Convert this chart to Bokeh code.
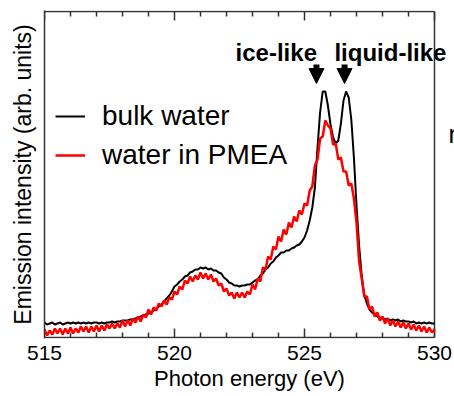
from bokeh.plotting import figure
from bokeh.models import (Range1d, FixedTicker, Legend, LegendItem,
                          Label, Arrow, NormalHead)
from bokeh.embed import file_html
from bokeh.resources import INLINE

# Photon energy grid (eV), 0.1 eV step
energy = [round(515 + 0.1 * i, 1) for i in range(151)]

bulk_water = [
    15, 13, 14, 15, 13, 14, 15, 13, 14, 15,      # 515
    14, 15, 14, 15, 14, 15, 14, 15, 14, 15,      # 516
    15, 14, 15, 14, 15, 15, 16, 15, 16, 16,      # 517
    17, 17, 17, 18, 18, 19, 20, 21, 22, 23,      # 518
    24, 25, 27, 29, 31, 33, 36, 39, 42, 46,      # 519
    51, 53, 56, 58, 61, 62, 65, 66, 68, 68,      # 520
    70, 69, 70, 68, 69, 67, 67, 65, 64, 60,      # 521
    58, 55, 54, 52, 52, 51, 52, 52, 53, 53,      # 522
    55, 57, 58, 62, 64, 68, 70, 74, 76, 80,      # 523
    82, 85, 85, 87, 87, 89, 90, 92, 93, 96,      # 524
    100, 107, 117, 130, 150, 190, 225, 246, 246, 232,  # 525
    213, 200, 194, 197, 214, 237, 246, 240, 218, 180,  # 526
    132, 92, 62, 42, 34, 28, 25, 23, 21, 20,     # 527
    19, 18, 19, 17, 18, 17, 18, 16, 17, 16,      # 528
    16, 15, 16, 14, 15, 14, 15, 14, 15, 14,      # 529
    14,                                          # 530
]

water_in_pmea = [
    8, 2, 7, 3, 9, 4, 9, 3, 9, 4,                # 515
    10, 4, 9, 5, 11, 6, 11, 5, 11, 6,            # 516
    12, 6, 12, 7, 13, 9, 14, 9, 14, 10,          # 517
    17, 11, 17, 12, 19, 15, 21, 16, 23, 20,      # 518
    28, 23, 30, 27, 34, 31, 37, 33, 40, 38,      # 519
    46, 43, 51, 48, 57, 54, 61, 56, 62, 58,      # 520
    65, 59, 64, 58, 63, 56, 59, 52, 54, 46,      # 521
    49, 42, 45, 39, 45, 40, 45, 40, 46, 43,      # 522
    53, 48, 59, 56, 70, 68, 81, 78, 91, 88,      # 523
    101, 96, 108, 103, 115, 110, 121, 116, 127, 123,   # 524
    134, 132, 147, 151, 172, 178, 199, 201, 217, 212,  # 525
    209, 193, 194, 178, 180, 166, 166, 152, 154, 139,  # 526
    115, 76, 59, 41, 41, 28, 31, 21, 25, 17,     # 527
    21, 14, 19, 12, 17, 11, 16, 10, 15, 9,       # 528
    14, 8, 13, 7, 12, 6, 11, 5, 10, 5,           # 529
    8,                                           # 530
]

x_start, x_end = 515, 530
major_ticks = [515, 520, 525, 530]
minor_ticks = [t for t in range(515, 531) if t not in major_ticks]
series_names = ["bulk water", "water in PMEA"]
series_colors = ["#000000", "#ff0000"]
peak_names = ["ice-like", "liquid-like"]
peak_energy = [525.46, 526.54]

FONT = "Liberation Sans"
AXC = "#333333"
Y_MAX = 326

# the frame runs to the right edge of the canvas so that the text there is not
# clipped; the plot box itself is drawn at x = 515..530
p = figure(width=454, height=396, output_backend="svg", toolbar_location=None,
           x_range=Range1d(x_start, x_start + 410 / 26), y_range=Range1d(-1, Y_MAX + 1),
           min_border_left=44, min_border_right=0, min_border_top=10,
           min_border_bottom=58)
p.grid.visible = False
p.outline_line_color = None
p.background_fill_color = "white"

# bottom axis (labels only; line and ticks drawn below)
xa = p.xaxis[0]
xa.ticker = FixedTicker(ticks=major_ticks)
xa.major_tick_in = 0
xa.major_tick_out = 0
xa.minor_tick_in = 0
xa.minor_tick_out = 0
xa.axis_line_color = None
xa.major_label_text_font = FONT
xa.major_label_text_font_size = "21px"
xa.major_label_text_color = "black"
xa.major_label_standoff = 7
xa.axis_label = "Photon energy (eV)"
xa.axis_label_text_font = FONT
xa.axis_label_text_font_size = "22px"
xa.axis_label_text_font_style = "normal"
xa.axis_label_text_color = "black"
xa.axis_label_standoff = 3

# left axis: line and title only
ya = p.yaxis[0]
ya.ticker = FixedTicker(ticks=[])
ya.major_tick_in = 0
ya.major_tick_out = 0
ya.minor_tick_in = 0
ya.minor_tick_out = 0
ya.axis_line_color = AXC
ya.axis_line_width = 1.5
ya.axis_label = "Emission intensity (arb. units)"
ya.axis_label_text_font = FONT
ya.axis_label_text_font_size = "23px"
ya.axis_label_text_font_style = "normal"
ya.axis_label_text_color = "black"
ya.axis_label_standoff = 9

# plot box: bottom, top and right edges
p.multi_line(xs=[[x_start, x_end], [x_start, x_end], [x_end, x_end]],
             ys=[[0, 0], [Y_MAX, Y_MAX], [0, Y_MAX]],
             line_color=AXC, line_width=1.5)

# inward tick marks on bottom and top edges
MAJ_LEN, MIN_LEN = 9, 5
tick_xs, tick_ys = [], []
for ticks, ln in ((major_ticks, MAJ_LEN), (minor_ticks, MIN_LEN)):
    for t in ticks:
        tick_xs += [[t, t], [t, t]]
        tick_ys += [[0, ln], [Y_MAX, Y_MAX - ln]]
p.multi_line(xs=tick_xs, ys=tick_ys, line_color=AXC, line_width=1.5)

r_bulk = p.line(energy, bulk_water, line_color=series_colors[0], line_width=2)
r_pmea = p.line(energy, water_in_pmea, line_color=series_colors[1], line_width=2.5)

legend = Legend(items=[LegendItem(label=series_names[0], renderers=[r_bulk]),
                       LegendItem(label=series_names[1], renderers=[r_pmea])],
                location=(11, 167), orientation="vertical",
                glyph_width=30, glyph_height=30, label_height=30,
                label_standoff=17, spacing=7, padding=0, margin=0,
                border_line_color=None, background_fill_alpha=0,
                label_text_font=FONT, label_text_font_size="28px",
                label_text_color="black")
p.add_layout(legend, "center")

# peak annotations
lab_x = [522.35, 526.15]
for name, lx in zip(peak_names, lab_x):
    p.add_layout(Label(x=lx, y=285, text=name, text_font=FONT, text_font_size="24px",
                       text_font_style="bold", text_color="black",
                       text_baseline="alphabetic"))
for ex in peak_energy:
    p.add_layout(Arrow(end=NormalHead(size=15, fill_color="black", line_color="black"),
                       x_start=ex, y_start=273, x_end=ex, y_end=254,
                       line_width=6, line_color="black"))

# cut-off letter from the neighbouring panel
p.add_layout(Label(x=530.54, y=204, text="n", text_font=FONT, text_font_size="25px",
                   text_color="black", text_baseline="alphabetic"))

open("out.html", "w").write(file_html(p, INLINE))
